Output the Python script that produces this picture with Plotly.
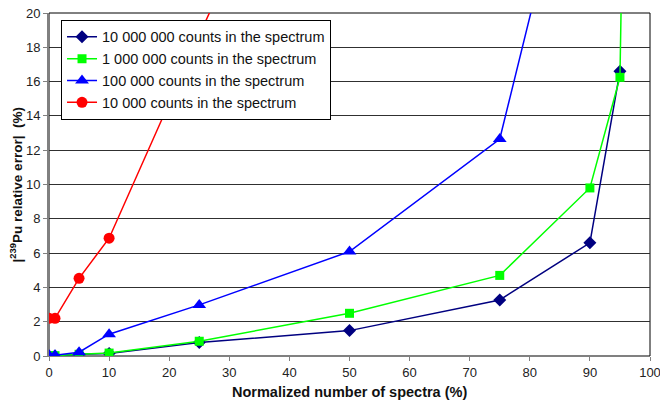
import plotly.graph_objects as go

names = ["10 000 000 counts in the spectrum",
         "1 000 000 counts in the spectrum",
         "100 000 counts in the spectrum",
         "10 000 counts in the spectrum"]

x_navy = [0, 1, 5, 10, 25, 50, 75, 90, 95]
y_navy = [0.0, 0.0, 0.1, 0.15, 0.78, 1.48, 3.27, 6.6, 16.6]

x_green = [0, 1, 5, 10, 25, 50, 75, 90, 95, 99]
y_green = [0.02, 0.02, 0.1, 0.17, 0.86, 2.49, 4.7, 9.8, 16.25, 100]

x_blue = [0, 1, 5, 10, 25, 50, 75, 90]
y_blue = [0.05, 0.05, 0.22, 1.27, 2.98, 6.09, 12.65, 34.0]

x_red = [0, 1, 5, 10, 25, 50]
y_red = [2.2, 2.2, 4.53, 6.87, 18.7, 38.0]

x_ticks = [0, 10, 20, 30, 40, 50, 60, 70, 80, 90, 100]
y_ticks = [0, 2, 4, 6, 8, 10, 12, 14, 16, 18, 20]

x_title = "<b>Normalized number of spectra (%)</b>"
y_title = "<b>|<sup>239</sup>Pu relative error|  (%)</b>"

series = [
    (x_navy, y_navy, names[0], "#000080", "diamond", 10),
    (x_green, y_green, names[1], "#00FF00", "square", 9),
    (x_blue, y_blue, names[2], "#0000FF", "triangle-up", 12),
    (x_red, y_red, names[3], "#FF0000", "circle", 11),
]

fig = go.Figure()
for xs, ys, nm, col, sym, sz in series:
    fig.add_trace(go.Scatter(
        x=xs, y=ys, name=nm, mode="lines+markers",
        line=dict(color=col, width=1.5),
        marker=dict(color=col, symbol=sym, size=sz),
    ))

font_family = "Arial, Liberation Sans, sans-serif"

fig.update_layout(
    width=660, height=405,
    margin=dict(l=49, r=10, t=13, b=49),
    paper_bgcolor="white", plot_bgcolor="white",
    font=dict(family=font_family, size=12, color="#222"),
    showlegend=True,
    legend=dict(
        x=0.02, y=0.98, xanchor="left", yanchor="top",
        bgcolor="white", bordercolor="black", borderwidth=1,
        font=dict(family=font_family, size=14.5, color="#111"),
        itemwidth=30, tracegroupgap=0,
    ),
    xaxis=dict(
        range=[0, 100], tickvals=x_ticks, ticktext=[str(v) for v in x_ticks],
        showgrid=False, zeroline=False, automargin=False, ticklabeloverflow="allow",
        showline=True, linecolor="#808080", linewidth=1,
        ticks="outside", ticklen=4, tickcolor="#808080",
        tickfont=dict(size=13),
    ),
    yaxis=dict(
        range=[0, 20], tickvals=y_ticks, ticktext=[str(v) for v in y_ticks],
        showgrid=True, gridcolor="#303030", gridwidth=1,
        zeroline=False, automargin=False, ticklabeloverflow="allow",
        showline=True, linecolor="#808080", linewidth=2,
        ticks="outside", ticklen=4, tickcolor="#808080",
        tickfont=dict(size=13),
    ),
    annotations=[
        dict(text=x_title, xref="paper", yref="paper", x=0.5, y=-0.105,
             xanchor="center", yanchor="middle", showarrow=False,
             font=dict(size=14.5, color="#111")),
        dict(text=y_title, xref="paper", yref="paper", x=-0.055, y=0.5,
             xanchor="center", yanchor="middle", showarrow=False, textangle=-90,
             font=dict(size=13.5, color="#111")),
    ],
    shapes=[dict(type="rect", xref="paper", yref="paper", x0=0, y0=0, x1=1, y1=1,
                 line=dict(color="black", width=1), layer="below")],
)

fig.write_html("out.html", config={"displayModeBar": False},
               post_script="document.body.style.margin='0';document.body.style.overflow='hidden';")
